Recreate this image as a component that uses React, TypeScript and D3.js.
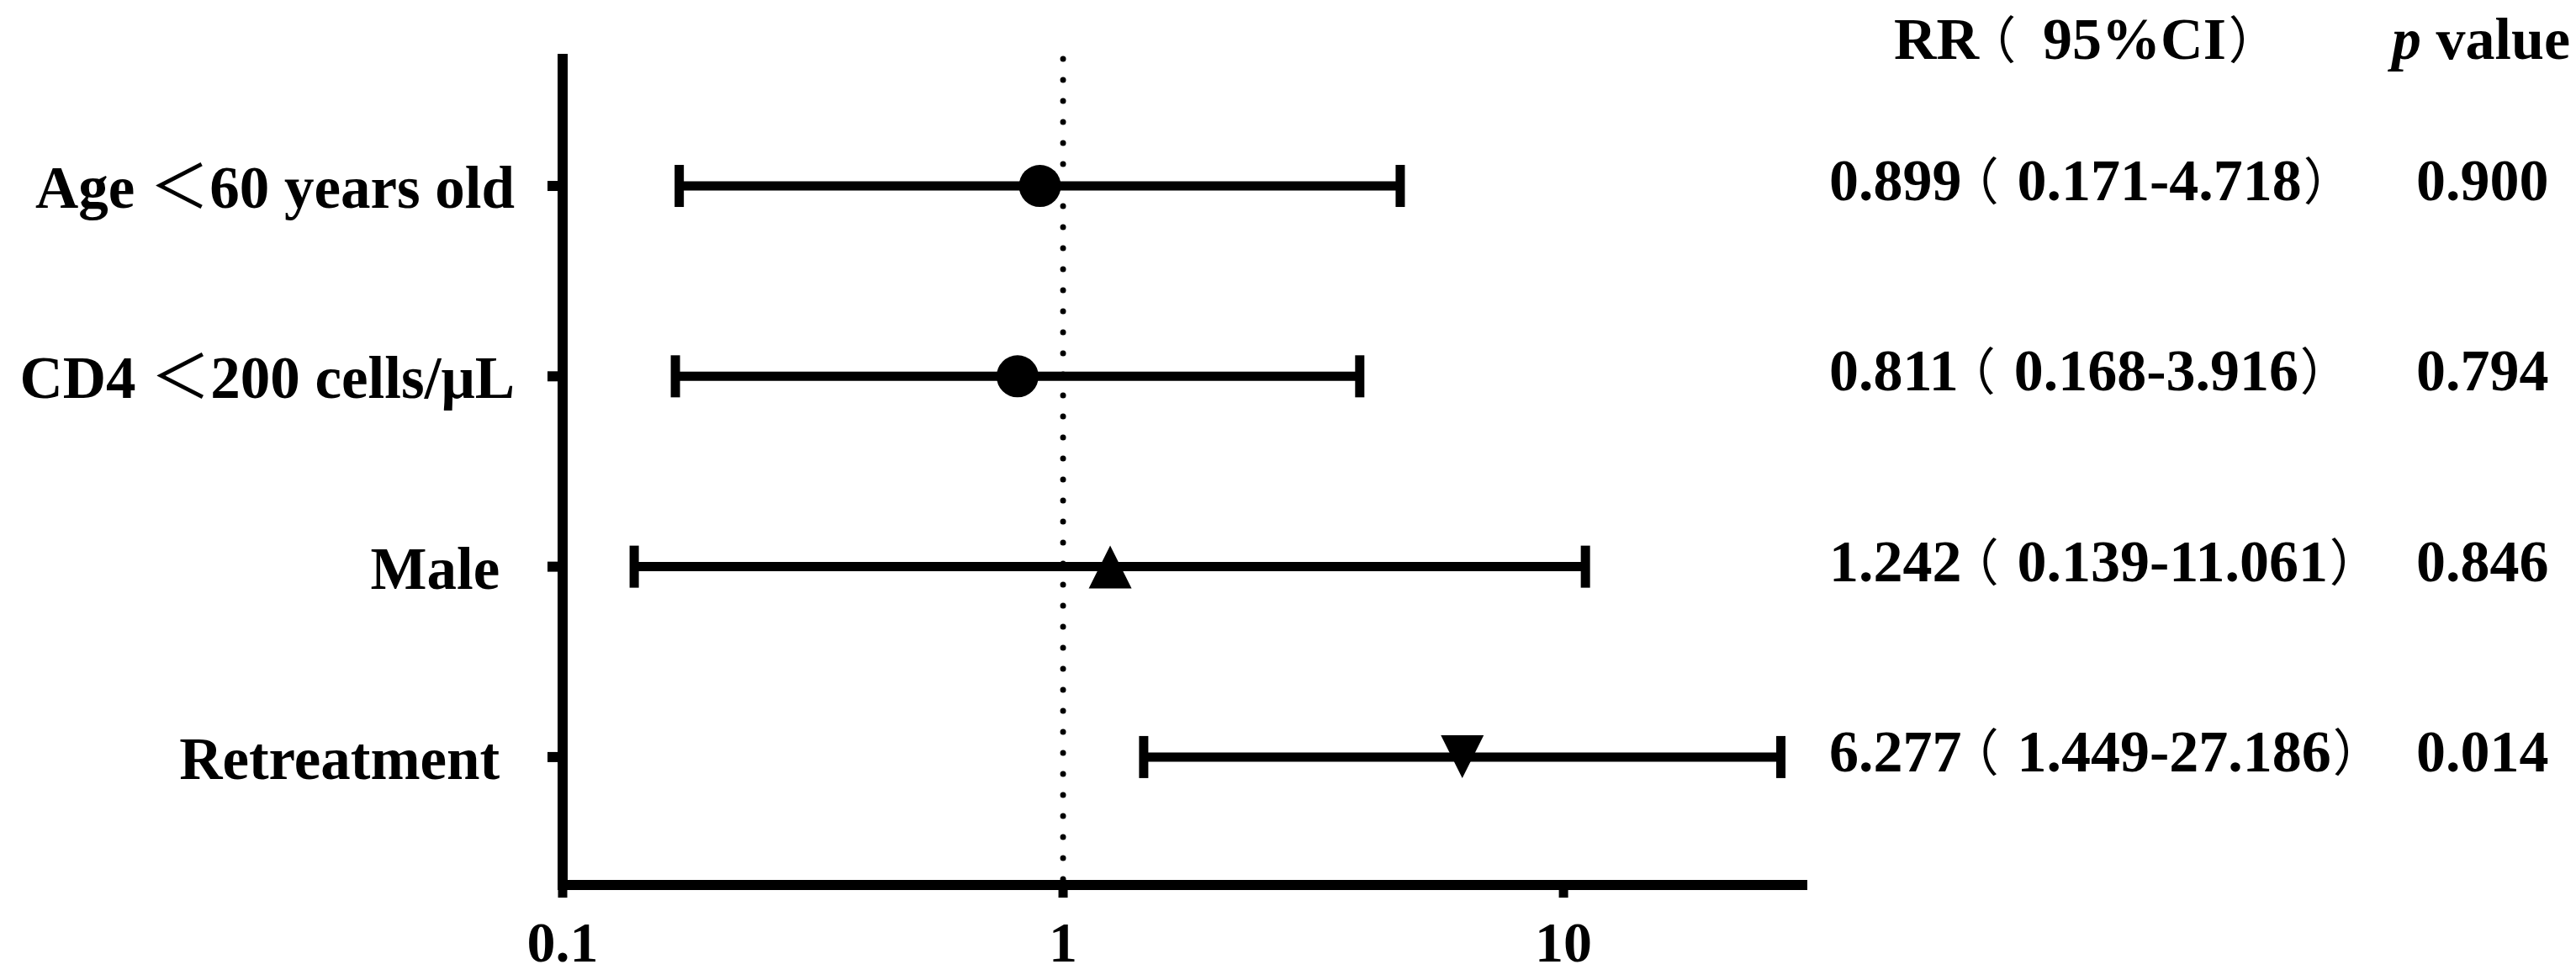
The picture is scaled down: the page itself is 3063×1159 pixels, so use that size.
import React from 'react';
import * as d3 from 'd3';

// forest plot data (RR with 95% CI)
const categories = ['Age ＜60 years old', 'CD4 ＜200 cells/μL', 'Male ', 'Retreatment '];
const rrValues = [0.899, 0.811, 1.242, 6.277];
const ciLower = [0.171, 0.168, 0.139, 1.449];
const ciUpper = [4.718, 3.916, 11.061, 27.186];
const pValues = ['0.900', '0.794', '0.846', '0.014'];
const markerTypes = ['circle', 'circle', 'triangleUp', 'triangleDown'];
const xTicks = [0.1, 1, 10];
const xTickLabels = ['0.1', '1', '10'];

const serif = "'Liberation Serif', 'Times New Roman', serif";
const cjk = "'Noto Sans CJK SC', sans-serif";

const markerPath = (type: string) => {
  if (type === 'triangleUp') return 'M0,-25L25.5,26L-25.5,26Z';
  if (type === 'triangleDown') return 'M0,25L25.5,-26L-25.5,-26Z';
  return '';
};

// fullwidth chars rendered light, like the original
const Cjk = ({ ch, dx, size }: { ch: string; dx?: number; size?: number }) => (
  <tspan
    fontFamily={cjk}
    fontWeight={400}
    fontSize={size}
    dx={dx}
    style={{ fontFeatureSettings: '"palt"' }}
  >
    {ch}
  </tspan>
);

export default function App() {
  const width = 3063;
  const height = 1159;

  const x = d3.scaleLog().domain([0.1, 30]).range([669, 2143]);
  const y = d3.scalePoint<string>().domain(categories).range([64, 1052]).padding(0.683).align(0.508);

  const [x0, x1] = x.range();
  const [yTop, yBottom] = y.range();
  const rrX = 2175;
  const pX = 2873;

  return (
    <svg
      width={width}
      height={height}
      style={{ position: 'absolute', left: 0, top: 0, background: '#fff' }}
      fontFamily={serif}
      fontWeight="bold"
    >
      {/* reference line at RR = 1 */}
      <line
        x1={x(1)} x2={x(1)} y1={yTop + 6} y2={yBottom}
        stroke="#000" strokeWidth={7} strokeLinecap="round" strokeDasharray="0 25"
      />

      {/* axes */}
      <line x1={x0} x2={x0} y1={yTop} y2={yBottom + 6} stroke="#000" strokeWidth={12} />
      <line x1={x0 - 6} x2={x1 + 6} y1={yBottom} y2={yBottom} stroke="#000" strokeWidth={12} />
      {xTicks.map((t, i) => (
        <g key={t}>
          <line x1={x(t)} x2={x(t)} y1={yBottom} y2={yBottom + 15} stroke="#000" strokeWidth={11} />
          <text x={x(t)} y={yBottom + 91} textAnchor="middle" fontSize={68}>{xTickLabels[i]}</text>
        </g>
      ))}
      {categories.map((c) => (
        <g key={c}>
          <line x1={x0 - 18} x2={x0} y1={y(c)} y2={y(c)} stroke="#000" strokeWidth={12} />
          <text
            x={x0 - 57} y={(y(c) as number) + 26}
            textAnchor="end" fontSize={71} style={{ whiteSpace: 'pre' }}
          >
            {c.split('＜')[0]}
            {c.includes('＜') ? <Cjk ch="＜" /> : null}
            {c.includes('＜') ? c.split('＜')[1] : null}
          </text>
        </g>
      ))}

      {/* CI bars and markers */}
      {categories.map((c, i) => {
        const yc = y(c) as number;
        const lo = x(ciLower[i]);
        const hi = x(ciUpper[i]);
        const m = x(rrValues[i]);
        return (
          <g key={'bar' + c}>
            <line x1={lo} x2={hi} y1={yc} y2={yc} stroke="#000" strokeWidth={11} />
            <line x1={lo} x2={lo} y1={yc - 25} y2={yc + 25} stroke="#000" strokeWidth={11} />
            <line x1={hi} x2={hi} y1={yc - 25} y2={yc + 25} stroke="#000" strokeWidth={11} />
            {markerTypes[i] === 'circle' ? (
              <circle cx={m} cy={yc} r={25} fill="#000" />
            ) : (
              <path d={markerPath(markerTypes[i])} transform={`translate(${m},${yc})`} fill="#000" />
            )}
          </g>
        );
      })}

      {/* table columns */}
      <text x={rrX + 77} y={70} fontSize={70} style={{ whiteSpace: 'pre' }}>
        RR<Cjk ch="（" dx={12} size={60} />
        <tspan dx={34}>95%CI</tspan>
        <Cjk ch="）" dx={5} size={60} />
      </text>
      <text x={2844} y={70} fontSize={70}>
        <tspan fontStyle="italic">p</tspan> value
      </text>
      {categories.map((c, i) => (
        <g key={'tbl' + c}>
          <text x={rrX} y={(y(c) as number) + 17} fontSize={70} style={{ whiteSpace: 'pre' }}>
            {rrValues[i].toFixed(3)}
            <Cjk ch="（" dx={12} size={60} />
            <tspan dx={24}>{`${ciLower[i].toFixed(3)}-${ciUpper[i].toFixed(3)}`}</tspan>
            <Cjk ch="）" dx={4} size={60} />
          </text>
          <text x={pX} y={(y(c) as number) + 17} fontSize={70}>{pValues[i]}</text>
        </g>
      ))}
    </svg>
  );
}
